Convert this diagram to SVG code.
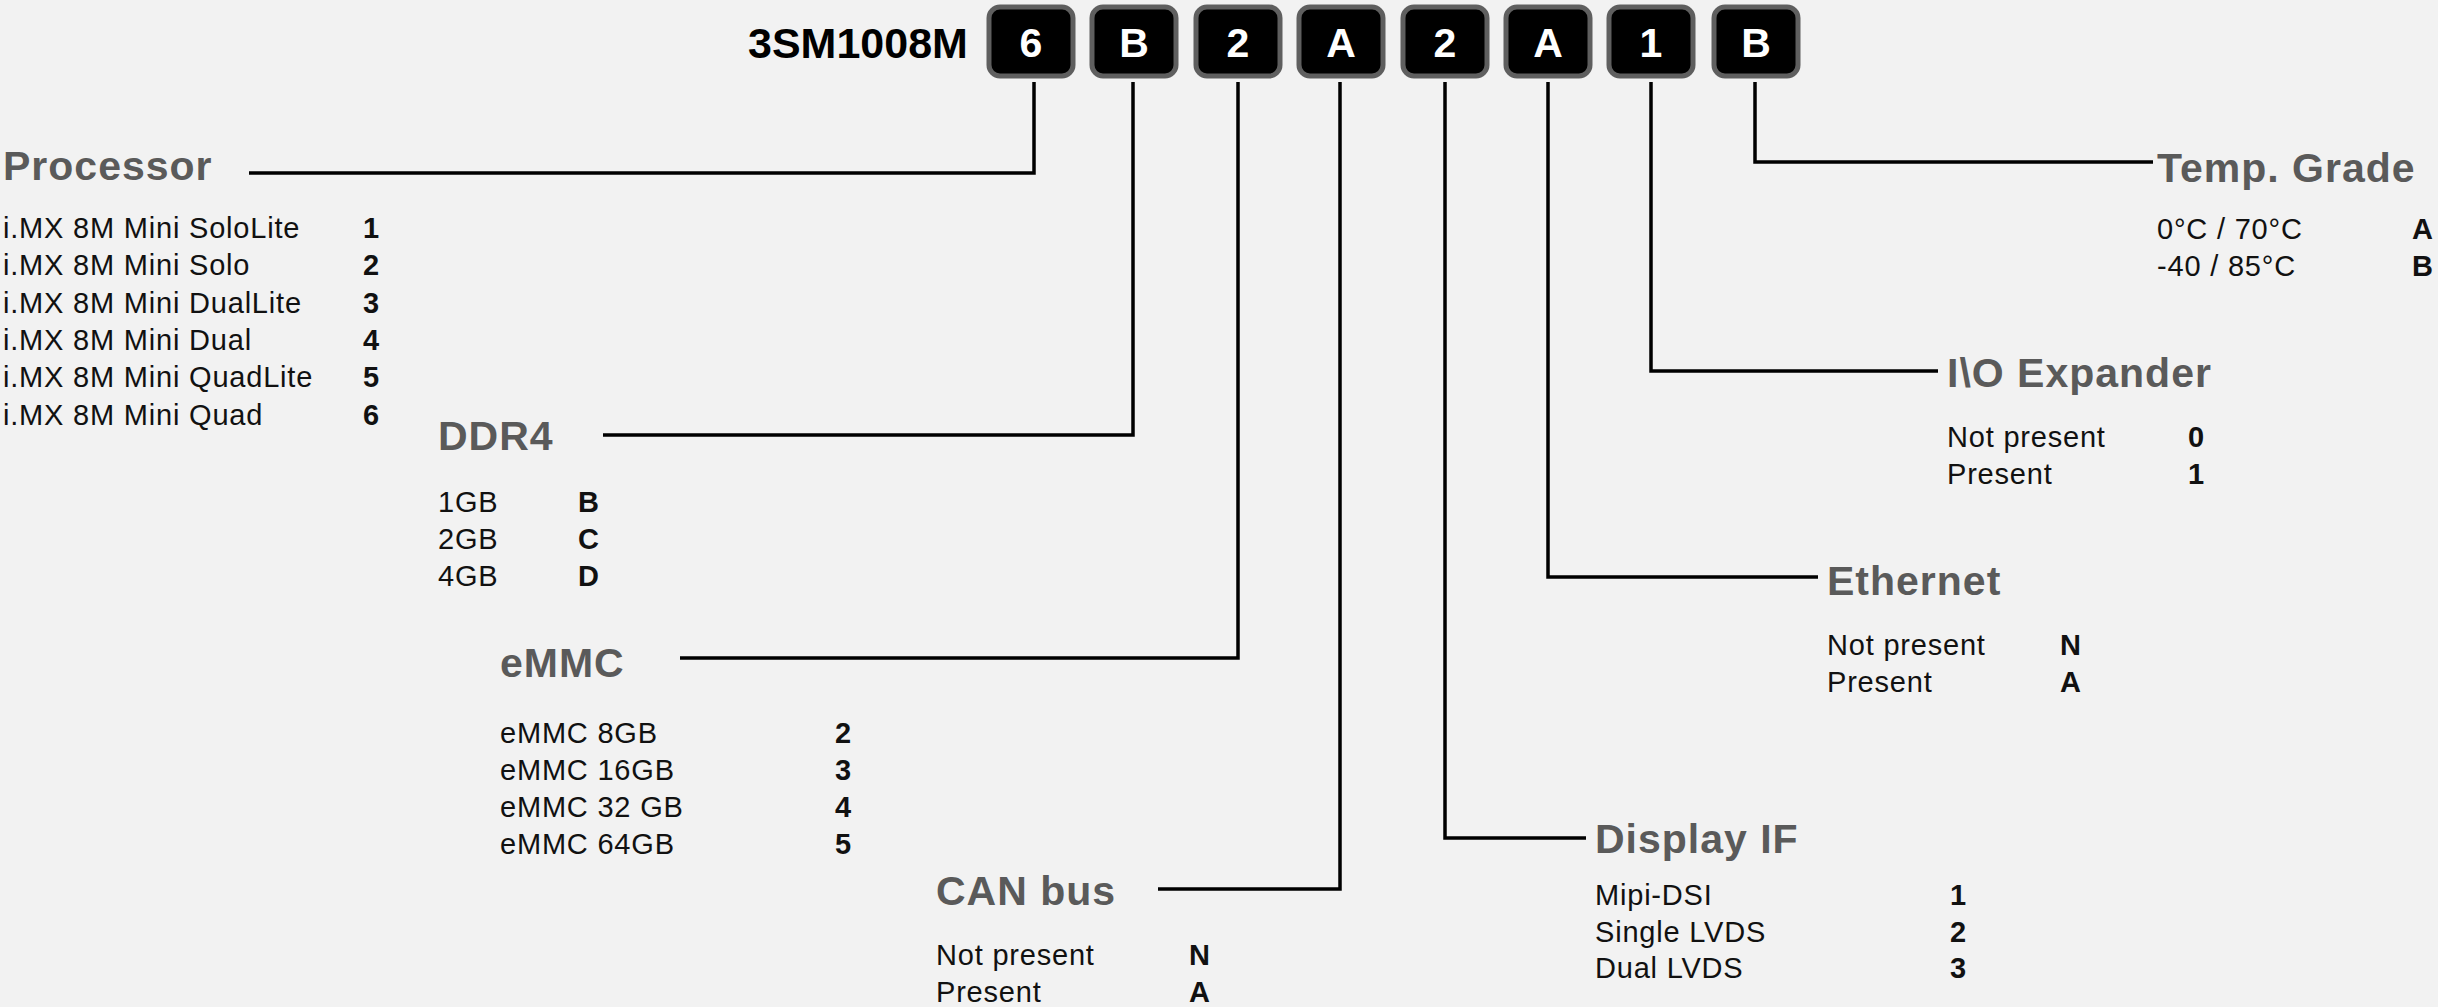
<svg xmlns="http://www.w3.org/2000/svg" width="2438" height="1007" viewBox="0 0 2438 1007">
<style>
.bg{fill:#f2f2f2}
.title{font-family:"Liberation Sans",Arial,sans-serif;font-weight:bold;font-size:43px;fill:#000}
.box rect{fill:#000;stroke:#5f5f5f;stroke-width:5}
.box text{font-family:"Liberation Sans",Arial,sans-serif;font-weight:bold;font-size:41px;fill:#fff;text-anchor:middle}
.head{font-family:"Liberation Sans",Arial,sans-serif;font-weight:bold;font-size:41px;letter-spacing:1px;fill:#5a5a5a}
.item{font-family:"Liberation Sans",Arial,sans-serif;font-size:29px;letter-spacing:0.8px;fill:#111}
.code{font-family:"Liberation Sans",Arial,sans-serif;font-weight:bold;font-size:29px;fill:#111}
.conn path{fill:none;stroke:#000;stroke-width:3.5}
</style>
<rect class="bg" x="0" y="0" width="2438" height="1007"/>
<g id="partnumber">
<text class="title" x="748" y="58">3SM1008M</text>
<g class="box" id="box1"><rect x="989" y="7" width="84" height="69" rx="11"/><text x="1031" y="57">6</text></g>
<g class="box" id="box2"><rect x="1092" y="7" width="84" height="69" rx="11"/><text x="1134" y="57">B</text></g>
<g class="box" id="box3"><rect x="1196" y="7" width="84" height="69" rx="11"/><text x="1238" y="57">2</text></g>
<g class="box" id="box4"><rect x="1299" y="7" width="84" height="69" rx="11"/><text x="1341" y="57">A</text></g>
<g class="box" id="box5"><rect x="1403" y="7" width="84" height="69" rx="11"/><text x="1445" y="57">2</text></g>
<g class="box" id="box6"><rect x="1506" y="7" width="84" height="69" rx="11"/><text x="1548" y="57">A</text></g>
<g class="box" id="box7"><rect x="1609" y="7" width="84" height="69" rx="11"/><text x="1651" y="57">1</text></g>
<g class="box" id="box8"><rect x="1714" y="7" width="84" height="69" rx="11"/><text x="1756" y="57">B</text></g>
</g>
<g class="conn" id="connectors">
<path d="M249 173 H1034 V82"/>
<path d="M603 435 H1133 V82"/>
<path d="M680 658 H1238 V82"/>
<path d="M1158 889 H1340 V82"/>
<path d="M1586 838 H1445 V82"/>
<path d="M1818 577 H1548 V82"/>
<path d="M1938 371 H1651 V82"/>
<path d="M2153 162 H1755 V82"/>
</g>
<g id="processor">
<text class="head" x="3" y="180">Processor</text>
<text class="item" x="3" y="238">i.MX 8M Mini SoloLite</text><text class="code" x="363" y="238">1</text>
<text class="item" x="3" y="275">i.MX 8M Mini Solo</text><text class="code" x="363" y="275">2</text>
<text class="item" x="3" y="313">i.MX 8M Mini DualLite</text><text class="code" x="363" y="313">3</text>
<text class="item" x="3" y="350">i.MX 8M Mini Dual</text><text class="code" x="363" y="350">4</text>
<text class="item" x="3" y="387">i.MX 8M Mini QuadLite</text><text class="code" x="363" y="387">5</text>
<text class="item" x="3" y="425">i.MX 8M Mini Quad</text><text class="code" x="363" y="425">6</text>
</g>
<g id="ddr4">
<text class="head" x="438" y="450">DDR4</text>
<text class="item" x="438" y="512">1GB</text><text class="code" x="578" y="512">B</text>
<text class="item" x="438" y="549">2GB</text><text class="code" x="578" y="549">C</text>
<text class="item" x="438" y="586">4GB</text><text class="code" x="578" y="586">D</text>
</g>
<g id="emmc">
<text class="head" x="500" y="677">eMMC</text>
<text class="item" x="500" y="743">eMMC 8GB</text><text class="code" x="835" y="743">2</text>
<text class="item" x="500" y="780">eMMC 16GB</text><text class="code" x="835" y="780">3</text>
<text class="item" x="500" y="817">eMMC 32 GB</text><text class="code" x="835" y="817">4</text>
<text class="item" x="500" y="854">eMMC 64GB</text><text class="code" x="835" y="854">5</text>
</g>
<g id="canbus">
<text class="head" x="936" y="905">CAN bus</text>
<text class="item" x="936" y="965">Not present</text><text class="code" x="1189" y="965">N</text>
<text class="item" x="936" y="1002">Present</text><text class="code" x="1189" y="1002">A</text>
</g>
<g id="display">
<text class="head" x="1595" y="853">Display IF</text>
<text class="item" x="1595" y="905">Mipi-DSI</text><text class="code" x="1950" y="905">1</text>
<text class="item" x="1595" y="942">Single LVDS</text><text class="code" x="1950" y="942">2</text>
<text class="item" x="1595" y="978">Dual LVDS</text><text class="code" x="1950" y="978">3</text>
</g>
<g id="ethernet">
<text class="head" x="1827" y="595">Ethernet</text>
<text class="item" x="1827" y="655">Not present</text><text class="code" x="2060" y="655">N</text>
<text class="item" x="1827" y="692">Present</text><text class="code" x="2060" y="692">A</text>
</g>
<g id="ioexpander">
<text class="head" x="1947" y="387">I\O Expander</text>
<text class="item" x="1947" y="447">Not present</text><text class="code" x="2188" y="447">0</text>
<text class="item" x="1947" y="484">Present</text><text class="code" x="2188" y="484">1</text>
</g>
<g id="tempgrade">
<text class="head" x="2157" y="182">Temp. Grade</text>
<text class="item" x="2157" y="239">0°C / 70°C</text><text class="code" x="2412" y="239">A</text>
<text class="item" x="2157" y="276">-40 / 85°C</text><text class="code" x="2412" y="276">B</text>
</g>
</svg>
